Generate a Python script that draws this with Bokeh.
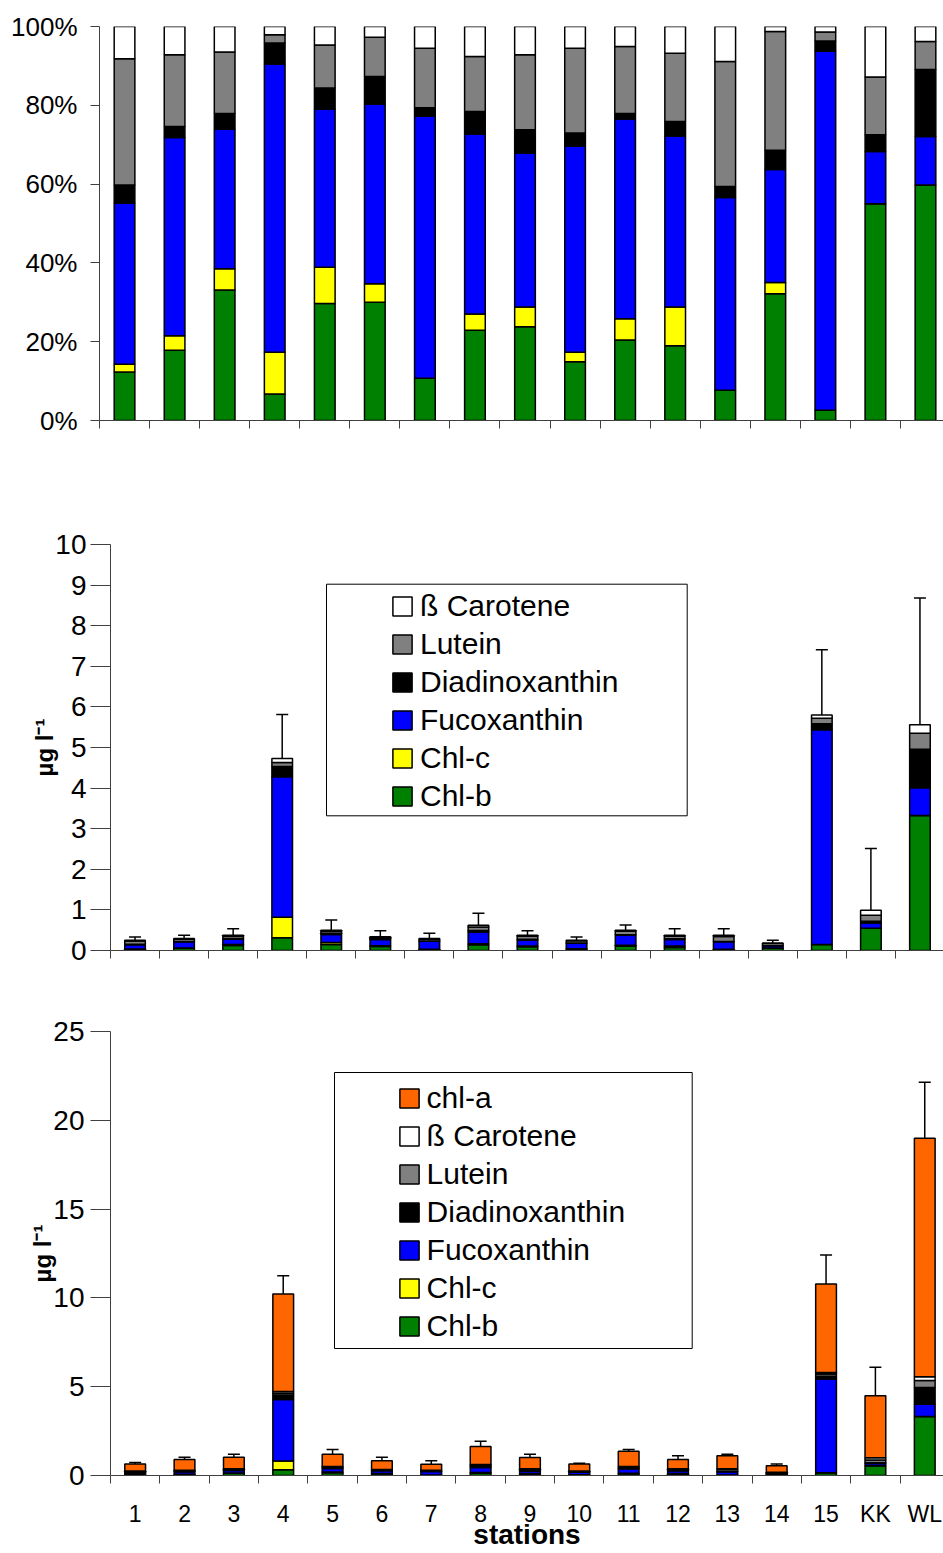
from bokeh.plotting import figure
from bokeh.models import (ColumnDataSource, Range1d, FixedTicker, PrintfTickFormatter,
                          Legend, LegendItem, BoxAnnotation, Whisker, TeeHead)
from bokeh.embed import file_html
from bokeh.resources import INLINE

# ---------------- data ----------------
stations = ["1", "2", "3", "4", "5", "6", "7", "8", "9", "10",
            "11", "12", "13", "14", "15", "KK", "WL"]

# composition (% of pigment sum)
pct_chlb = [12.3, 17.8, 33.1, 6.7, 29.7, 30.0, 10.7, 22.9, 23.8, 14.9, 20.4, 19.0, 7.7, 32.2, 2.6, 55.0, 59.8]
pct_chlc = [2.0, 3.7, 5.4, 10.6, 9.2, 4.7, 0.0, 4.1, 5.0, 2.4, 5.4, 9.8, 0.0, 2.8, 0.0, 0.0, 0.0]
pct_fuco = [40.9, 50.3, 35.4, 73.2, 40.1, 45.6, 66.6, 45.7, 39.1, 52.4, 50.7, 43.4, 48.9, 28.7, 91.1, 13.3, 12.3]
pct_diad = [4.6, 2.8, 4.0, 5.3, 5.4, 7.0, 2.1, 5.7, 5.9, 3.3, 1.4, 3.7, 2.8, 4.9, 2.6, 4.2, 17.0]
pct_lut = [32.0, 18.2, 15.6, 2.1, 10.9, 10.0, 15.1, 14.0, 19.0, 21.5, 17.0, 17.3, 31.7, 30.1, 2.3, 14.7, 7.1]
pct_beta = [8.2, 7.2, 6.5, 2.1, 4.7, 2.7, 5.5, 7.6, 7.2, 5.5, 5.1, 6.8, 8.9, 1.3, 1.4, 12.8, 3.8]

# pigment sum (ug/l) and its error
pig_total = [0.255, 0.296, 0.378, 4.73, 0.50, 0.337, 0.296, 0.625, 0.378, 0.255, 0.50, 0.378, 0.378, 0.18, 5.80, 0.994, 5.56]
pig_sd = [0.08, 0.08, 0.16, 1.08, 0.25, 0.15, 0.13, 0.29, 0.11, 0.08, 0.13, 0.16, 0.16, 0.07, 1.61, 1.52, 3.12]

# chl-a (ug/l) and error of the total
chla = [0.39, 0.60, 0.65, 5.49, 0.70, 0.49, 0.34, 1.01, 0.63, 0.39, 0.87, 0.52, 0.73, 0.37, 4.98, 3.50, 13.43]
all_sd = [0.09, 0.13, 0.17, 1.03, 0.27, 0.20, 0.19, 0.29, 0.19, 0.04, 0.10, 0.21, 0.09, 0.10, 1.64, 1.60, 3.15]

pig_keys = ["chlb", "chlc", "fuco", "diad", "lut", "beta"]
pig_labels = ["Chl-b", "Chl-c", "Fucoxanthin", "Diadinoxanthin", "Lutein", "ß Carotene"]
pig_colors = ["#008000", "#FFFF00", "#0000FF", "#000000", "#808080", "#FFFFFF"]
pct_lists = [pct_chlb, pct_chlc, pct_fuco, pct_diad, pct_lut, pct_beta]

FONT = "Liberation Sans"
AXIS_COL = "#404040"
W = 943
x = [i + 0.5 for i in range(len(stations))]
bounds = list(range(len(stations) + 1))


def make_fig(height, x_end, y_end, left, top, bottom, labels=True):
    p = figure(width=W, height=height, x_range=Range1d(0, x_end), y_range=Range1d(0, y_end),
               output_backend="svg", toolbar_location=None,
               min_border_left=left, min_border_right=0, min_border_top=top,
               min_border_bottom=bottom)
    p.grid.visible = False
    p.outline_line_color = None
    for ax in (p.xaxis[0], p.yaxis[0]):
        ax.axis_label = None
        ax.axis_line_color = AXIS_COL
        ax.axis_line_width = 1
        ax.major_label_text_font = FONT
        ax.major_label_text_color = "black"
        ax.axis_label_text_font = FONT
        ax.axis_label_text_color = "black"
    xa = p.xaxis[0]
    xa.ticker = FixedTicker(ticks=x if labels else [], minor_ticks=bounds)
    xa.major_tick_line_color = None
    xa.major_tick_in = 0
    xa.major_tick_out = 8
    xa.minor_tick_in = 0
    xa.minor_tick_out = 8
    xa.minor_tick_line_color = AXIS_COL
    if labels:
        xa.major_label_overrides = {xi: s for xi, s in zip(x, stations)}
    ya = p.yaxis[0]
    ya.minor_tick_line_color = None
    ya.major_tick_in = 0
    ya.major_tick_line_color = AXIS_COL
    return p


def add_legend(p, renderers, labels, loc, box):
    l, r, b, t = box
    p.add_layout(BoxAnnotation(left=l, right=r, bottom=b, top=t,
                               left_units="screen", right_units="screen",
                               bottom_units="screen", top_units="screen",
                               fill_color="white", fill_alpha=1.0,
                               line_color="black", line_width=1, line_alpha=1.0))
    items = [LegendItem(label=lab, renderers=[rr]) for lab, rr in zip(labels, renderers)]
    leg = Legend(items=items, location=loc, padding=0, margin=0, spacing=0,
                 glyph_width=24, glyph_height=24, label_height=38, label_standoff=6,
                 label_text_font=FONT, label_text_font_size="30px",
                 label_text_color="black", border_line_color=None,
                 background_fill_alpha=0)
    p.add_layout(leg)


def style_ylabel(ax):
    ax.axis_label = "µg l⁻¹"
    ax.axis_label_text_font_size = "24px"
    ax.axis_label_text_font_style = "bold"
    ax.axis_label_standoff = -6


# ---------------- top: percentage composition ----------------
src1 = ColumnDataSource(dict(x=x, **{k: v for k, v in zip(pig_keys, pct_lists)}))
p1 = make_fig(480, 16.86, 100, 99, 26, 60, labels=False)
p1.vbar_stack(pig_keys, x="x", width=0.413, source=src1, fill_color=pig_colors,
              line_color="black", line_width=1.5)
p1.yaxis[0].ticker = FixedTicker(ticks=[0, 20, 40, 60, 80, 100])
p1.yaxis[0].formatter = PrintfTickFormatter(format="%d%%")
p1.yaxis[0].major_tick_out = 9
p1.yaxis[0].major_label_standoff = 13
p1.yaxis[0].major_label_text_font_size = "26px"

# ---------------- middle: pigment concentrations ----------------
abs_vals = {k: [pc / 100.0 * tot for pc, tot in zip(lst, pig_total)]
            for k, lst in zip(pig_keys, pct_lists)}
src2 = ColumnDataSource(dict(x=x, lower=pig_total,
                             upper=[a + b for a, b in zip(pig_total, pig_sd)], **abs_vals))
p2 = make_fig(510, 16.98, 10, 110, 64, 40, labels=False)
r2 = p2.vbar_stack(pig_keys, x="x", width=0.42, source=src2, fill_color=pig_colors,
                   line_color="black", line_width=1.5)
p2.add_layout(Whisker(source=src2, base="x", lower="lower", upper="upper",
                      line_color="black", line_width=1.5, lower_head=None,
                      upper_head=TeeHead(size=12, line_color="black", line_width=1.5)))
p2.yaxis[0].ticker = FixedTicker(ticks=list(range(0, 11)))
p2.yaxis[0].major_tick_out = 20
p2.yaxis[0].major_label_standoff = 4
p2.yaxis[0].major_label_text_font_size = "28px"
style_ylabel(p2.yaxis[0])
add_legend(p2, r2[::-1], pig_labels[::-1], (280, 134.7), (216, 576.7, 134.7, 366.3))

# ---------------- bottom: with chl-a ----------------
keys3 = pig_keys + ["chla"]
colors3 = pig_colors + ["#FF6600"]
labels3 = pig_labels + ["chl-a"]
tot3 = [a + b for a, b in zip(pig_total, chla)]
src3 = ColumnDataSource(dict(x=x, chla=chla, lower=tot3,
                             upper=[a + b for a, b in zip(tot3, all_sd)], **abs_vals))
p3 = make_fig(563, 16.88, 25, 110, 41, 78)
r3 = p3.vbar_stack(keys3, x="x", width=0.42, source=src3, fill_color=colors3,
                   line_color="black", line_width=1.5)
p3.add_layout(Whisker(source=src3, base="x", lower="lower", upper="upper",
                      line_color="black", line_width=1.5, lower_head=None,
                      upper_head=TeeHead(size=12, line_color="black", line_width=1.5)))
p3.yaxis[0].ticker = FixedTicker(ticks=[0, 5, 10, 15, 20, 25])
p3.yaxis[0].major_tick_out = 20
p3.yaxis[0].major_label_standoff = 6
p3.yaxis[0].major_label_text_font_size = "28px"
style_ylabel(p3.yaxis[0])
p3.xaxis[0].major_label_text_font_size = "23px"
p3.xaxis[0].major_label_standoff = 17
p3.xaxis[0].axis_label = "stations"
p3.xaxis[0].axis_label_text_font_size = "28px"
p3.xaxis[0].axis_label_text_font_style = "bold"
p3.xaxis[0].axis_label_standoff = -11
add_legend(p3, r3[::-1], labels3[::-1], (286.6, 129.8), (224, 581.7, 127, 403))

# three separate roots, stacked on the page (no cross-plot frame alignment)
open("out.html", "w").write(file_html([p1, p2, p3], INLINE))
